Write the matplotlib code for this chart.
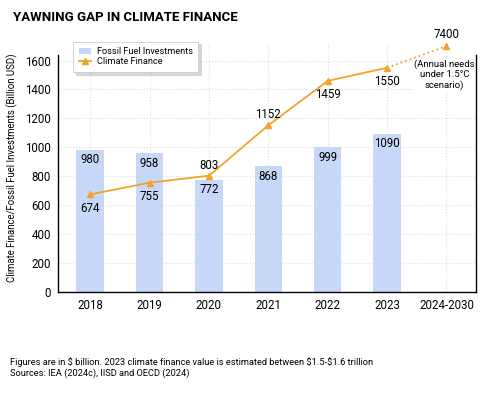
import matplotlib
matplotlib.use("Agg")
import matplotlib.pyplot as plt
from matplotlib import font_manager as fm

plt.rcParams['font.family'] = ['Roboto', 'DejaVu Sans']

categories = ['2018', '2019', '2020', '2021', '2022', '2023', '2024-2030']
fossil = [980, 958, 772, 868, 999, 1090]
climate = [674, 755, 803, 1152, 1459, 1550]
needs_label = 7400
needs_plot = 1700
yticks = [0, 200, 400, 600, 800, 1000, 1200, 1400, 1600]

bar_color = '#c6d7f7'
line_color = '#f2a22e'

names = {f.name for f in fm.fontManager.ttflist}
title_font = 'Liberation Sans Narrow' if 'Liberation Sans Narrow' in names else 'Roboto'
title_size = 11.7 if title_font == 'Liberation Sans Narrow' else 9.5

fig = plt.figure(figsize=(4.8, 3.96), dpi=100)
ax = fig.add_axes([0.121, 0.263, 0.871, 0.628])

x = list(range(len(categories)))
ax.bar(x[:6], fossil, width=0.46, color=bar_color, zorder=2, label='Fossil Fuel Investments')
ax.plot(x[:6], climate, color=line_color, marker='^', markersize=5, lw=1.3, zorder=3,
        label='Climate Finance')
ax.plot([x[5], x[6]], [climate[5], needs_plot], color=line_color, lw=1.3, ls=':', zorder=3)
ax.plot([x[6]], [needs_plot], color=line_color, marker='^', markersize=5, zorder=3, clip_on=False)

fs = 8.3
for xi, v in zip(x[:6], fossil):
    ax.text(xi, v - 22, str(v), ha='center', va='top', fontsize=fs, zorder=4)

offsets = [(0, -52, 'top'), (0, -52, 'top'), (0, 28, 'bottom'), (0, 28, 'bottom'),
           (0, -52, 'top'), (0, -52, 'top')]
for xi, v, (dx, dy, va) in zip(x[:6], climate, offsets):
    ax.text(xi + dx, v + dy, str(v), ha='center', va=va, fontsize=fs, zorder=4)
ax.text(x[6], needs_plot + 35, str(needs_label), ha='center', va='bottom', fontsize=fs,
        clip_on=False)
ax.text(x[6] - 0.03, 1605, '(Annual needs\nunder 1.5°C\nscenario)', ha='center', va='top',
        fontsize=6.8, linespacing=1.15, zorder=2.4,
        bbox=dict(facecolor='white', edgecolor='none', pad=0.5))

ax.set_xlim(-0.54, 6.5)
ax.set_ylim(0, 1720)
ax.set_xticks(x)
ax.set_xticklabels(categories, fontsize=fs)
ax.set_yticks(yticks)
ax.set_yticklabels([str(t) for t in yticks], fontsize=fs)
ax.tick_params(length=0, pad=5)
ax.grid(True, color='#dddddd', ls=':', lw=0.8, zorder=0)
ax.set_axisbelow(True)
ax.spines['top'].set_visible(False)
for s in ['left', 'right']:
    ax.spines[s].set_bounds(0, 1640)
for s in ['left', 'right', 'bottom']:
    ax.spines[s].set_linewidth(1.0)
ax.set_ylabel('Climate Finance/Fossil Fuel Investments (Billion USD)', fontsize=6.9, labelpad=5)

handles, labels = ax.get_legend_handles_labels()
order = [labels.index('Fossil Fuel Investments'), labels.index('Climate Finance')]
leg = ax.legend([handles[i] for i in order], [labels[i] for i in order],
                loc='upper left', bbox_to_anchor=(0.025, 1.025), fontsize=6.6, frameon=True,
                shadow={'color': '#bbbbbb', 'alpha': 0.6}, fancybox=False, borderpad=0.6,
                handlelength=1.4, handletextpad=0.6, labelspacing=0.15)
leg.get_frame().set_edgecolor('#cccccc')
leg.get_frame().set_linewidth(0.6)

fig.text(0.027, 0.957, 'YAWNING GAP IN CLIMATE FINANCE', fontsize=title_size, fontweight='bold',
         va='center', ha='left', family=[title_font, 'DejaVu Sans'])
fig.text(0.021, 0.072, 'Figures are in $ billion. 2023 climate finance value is estimated between $1.5-$1.6 trillion\nSources: IEA (2024c), IISD and OECD (2024)',
         fontsize=6.7, va='center', ha='left', linespacing=1.25)

fig.savefig('out.png', dpi=100)
